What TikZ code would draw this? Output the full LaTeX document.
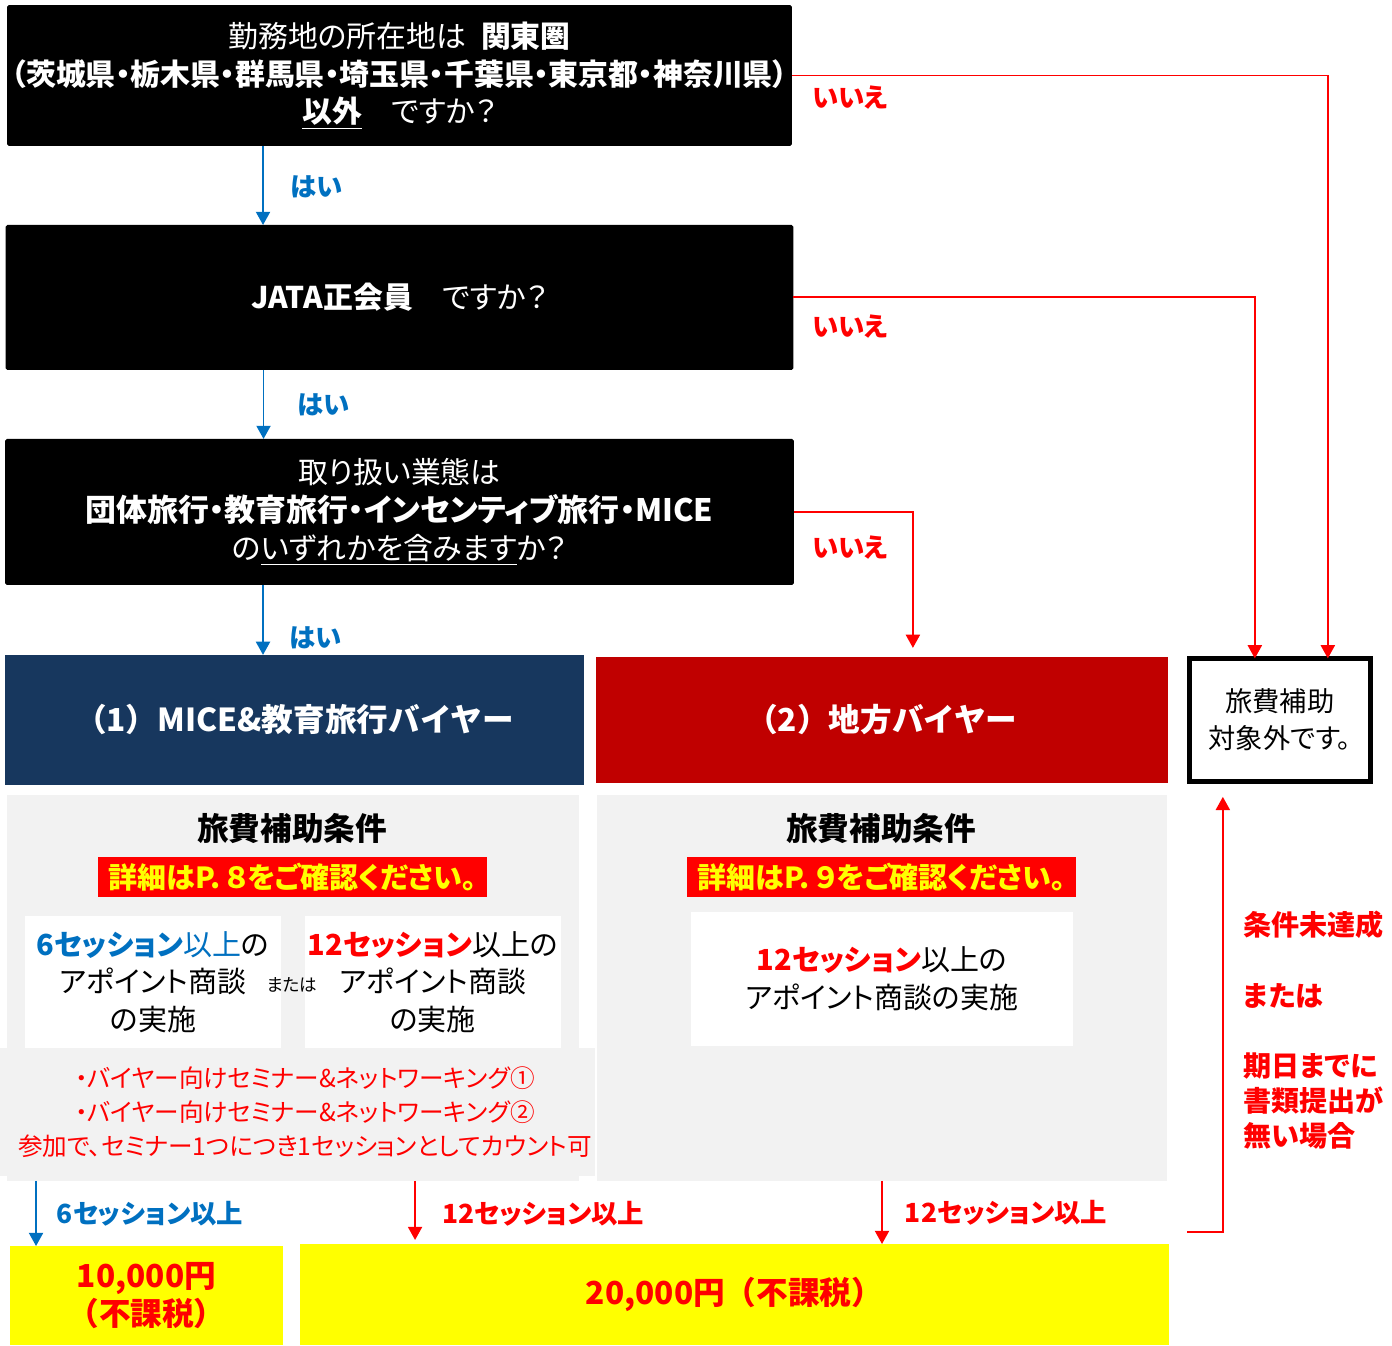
\documentclass[tikz,border=0pt]{standalone}
\usepackage{fontspec}
\setmainfont{Noto Sans CJK JP}[RawFeature=+palt]
\newfontfamily\jpfull{Noto Sans CJK JP}
\usepackage{tikz}
\usetikzlibrary{arrows.meta, positioning, calc}
\usepackage{xcolor}
\newcommand{\fsz}[2]{\fontsize{#1}{#2}\selectfont}
\definecolor{NavyBuyer}{HTML}{17375E}
\definecolor{RedBuyer}{HTML}{C00000}
\definecolor{YesBlue}{HTML}{0070C0}
\definecolor{NoRed}{HTML}{FF0000}
\definecolor{PanelGray}{HTML}{F2F2F2}
\definecolor{PrizeYellow}{HTML}{FFFF00}
\tikzset{
    question/.style={rectangle, fill=black, text=white, align=center, inner sep=0pt, outer sep=0pt, rounded corners=1pt, font=\fsz{17}{21.5}},
    buyer/.style={rectangle, text=white, align=center, inner sep=0pt, outer sep=0pt, font=\jpfull\fsz{18}{21}\bfseries},
    outbox/.style={rectangle, draw=black, line width=2.8pt, fill=white, align=center, inner sep=0pt, outer sep=0pt, font=\fsz{15.5}{21}},
    panel/.style={rectangle, fill=PanelGray, inner sep=0pt, outer sep=0pt},
    card/.style={rectangle, fill=white, align=center, inner sep=0pt, outer sep=0pt, font=\fsz{16.5}{21.5}},
    ttl/.style={inner sep=0pt, font=\fsz{18}{22}\bfseries},
    notice/.style={rectangle, fill=NoRed, text=PrizeYellow, inner sep=0pt, outer sep=0pt, font=\fsz{16.5}{20}\bfseries},
    prize/.style={rectangle, fill=PrizeYellow, text=NoRed, align=center, inner sep=0pt, outer sep=0pt, font=\jpfull\fsz{18}{21.5}\bfseries},
    arr_y/.style={-{Triangle[width=8pt, length=7.5pt]}, line width=1.1pt, draw=YesBlue},
    arr_n/.style={-{Triangle[width=8pt, length=7.5pt]}, line width=1.1pt, draw=NoRed},
    lbl_y/.style={inner sep=0pt, text=YesBlue, font=\fsz{15}{18}\bfseries},
    lbl_n/.style={inner sep=0pt, text=NoRed, align=left, font=\fsz{15}{20}\bfseries},
}

\begin{document}
\begin{tikzpicture}[x=0.02cm, y=0.02cm]
\useasboundingbox (0,0) rectangle (1392,-1345);
% questions
\node[question, minimum width=15.7cm, minimum height=2.82cm] (q1) at (399.5,-75.5)
    {勤務地の所在地は\enspace\textbf{関東圏}\\\textbf{（茨城県・栃木県・群馬県・埼玉県・千葉県・東京都・神奈川県）}\\\textbf{\underline{以外}}\quad ですか？};
\node[question, minimum width=15.76cm, minimum height=2.9cm, below=1.58cm of q1] (q2)
    {\textbf{JATA正会員}\quad ですか？};
\node[question, minimum width=15.78cm, minimum height=2.92cm, below=1.38cm of q2] (q3)
    {取り扱い業態は\\{\fsz{17.6}{21.5}\textbf{団体旅行・教育旅行・インセンティブ旅行・MICE}}\\の\underline{いずれかを含みます}か？};

% buyer types
\node[buyer, fill=NavyBuyer, minimum width=11.58cm, minimum height=2.6cm, below=1.4cm of q3.south west, anchor=north west] (b1)
    {（1）MICE\&教育旅行バイヤー};
\node[buyer, fill=RedBuyer, minimum width=11.44cm, minimum height=2.52cm, right=0.24cm of b1] (b2)
    {（2）地方バイヤー};
\node[outbox, minimum width=3.62cm, minimum height=2.46cm, right=0.43cm of b2] (b3)
    {旅費補助\\対象外です。};

% yes
\draw[arr_y] ([xshift=5.12cm]q1.south west) -- ([xshift=5.12cm]q1.south west |- q2.north)
    node[lbl_y, midway, anchor=west, xshift=0.54cm, yshift=-0.03cm] {はい};
\draw[arr_y] ([xshift=5.16cm]q2.south west) -- ([xshift=5.16cm]q2.south west |- q3.north)
    node[lbl_y, midway, anchor=west, xshift=0.66cm] {はい};
\draw[arr_y] ([xshift=5.16cm]q3.south west) -- ([xshift=5.16cm]q3.south west |- b1.north)
    node[lbl_y, midway, anchor=west, xshift=0.52cm, yshift=-0.36cm] {はい};

% no
\draw[arr_n] (q1.east) -| ([xshift=0.96cm]b3.north);
\draw[arr_n] (q2.east) -| ([xshift=-0.5cm]b3.north);
\draw[arr_n] (q3.east) -| ([xshift=0.62cm, yshift=0.18cm]b2.north);
\node[lbl_n, anchor=west] (n1) at ([shift={(0.4cm,-0.44cm)}]q1.east) {いいえ};
\node[lbl_n, anchor=west] (n2) at ([shift={(0.38cm,-0.59cm)}]q2.east) {いいえ};
\node[lbl_n, anchor=west] (n3) at ([shift={(0.36cm,-0.72cm)}]q3.east) {いいえ};

% conditions
\node[panel, minimum width=11.44cm, minimum height=7.72cm] (lp) at (293,-988) {};
\node[panel, minimum width=11.4cm, minimum height=7.72cm] (rp) at (882,-988) {};
\node[panel, minimum width=11.9cm, minimum height=2.56cm] (sem) at (297.5,-1112) {};

\node[ttl] (t1) at (292,-829) {旅費補助条件};
\node[notice, minimum width=7.78cm, minimum height=0.8cm] (d1) at (292.5,-877) {詳細はP.\,８をご確認ください。};
\node[card, minimum width=5.12cm, minimum height=2.64cm] (c1) at (153,-982)
    {{\color{YesBlue}\textbf{6セッション}以上}の\\アポイント商談\\の実施};
\node[card, minimum width=5.12cm, minimum height=2.64cm] (c2) at (433,-982)
    {{\color{NoRed}\textbf{12セッション}}以上の\\アポイント商談\\の実施};
\node[inner sep=0pt, font=\fsz{10}{12}] (or1) at (292,-985) {または};
\node[inner sep=0pt, text=NoRed, align=center, font=\fsz{14}{19.4}] (sm) at (305,-1112)
    {・バイヤー向けセミナー\&ネットワーキング①\\・バイヤー向けセミナー\&ネットワーキング②\\参加で、セミナー1つにつき1セッションとしてカウント可};

\node[ttl] (t2) at (881,-829) {旅費補助条件};
\node[notice, minimum width=7.78cm, minimum height=0.8cm] (d2) at (881.5,-877) {詳細はP.\,９をご確認ください。};
\node[card, minimum width=7.64cm, minimum height=2.68cm] (c3) at (882,-979)
    {{\color{NoRed}\textbf{12セッション}}以上の\\アポイント商談の実施};

% results
\node[prize, minimum width=5.46cm, minimum height=1.98cm] (p1) at (146.5,-1295.5) {10,000円\\（不課税）};
\node[prize, minimum width=17.38cm, minimum height=2.02cm] (p2) at (734.5,-1294.5) {20,000円（不課税）};

\draw[arr_y] ([xshift=0.52cm]p1.north west |- lp.south) -- ([xshift=0.52cm]p1.north west)
    node[lbl_y, midway, anchor=west, xshift=0.4cm] {6セッション以上};
\draw[arr_n] ([xshift=2.3cm]p2.north west |- lp.south) -- ([xshift=2.3cm, yshift=0.08cm]p2.north west)
    node[lbl_n, midway, anchor=west, xshift=0.52cm, yshift=-0.06cm] {12セッション以上};
\draw[arr_n] (rp.south) -- (rp.south |- p2.north)
    node[lbl_n, midway, anchor=west, xshift=0.44cm] {12セッション以上};

% not met
\coordinate (ret) at (1187,-1232);
\draw[arr_n] (ret) -| ([xshift=-1.14cm, yshift=-0.31cm]b3.south);
\node[lbl_n, anchor=north west, font=\fsz{16}{20}\bfseries] (nm) at (1243,-911)
    {条件未達成\\[20pt]または\\[20pt]期日までに\\書類提出が\\無い場合};
\end{tikzpicture}
\end{document}
